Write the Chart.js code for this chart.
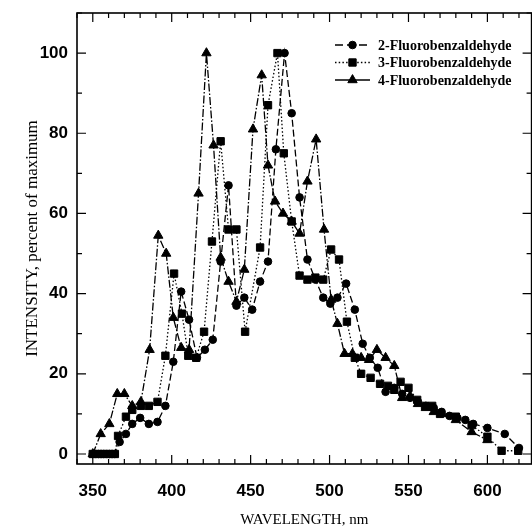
<!DOCTYPE html>
<html><head><meta charset="utf-8">
<script src="https://cdn.jsdelivr.net/npm/chart.js@4.4.0/dist/chart.umd.min.js"></script>
<style>html,body{margin:0;padding:0;overflow:hidden;background:#fff;width:532px;height:530px}
canvas{display:block}</style>
</head><body>
<canvas id="c" width="538" height="530"></canvas>
<script>
const seriesNames = ['2-Fluorobenzaldehyde','3-Fluorobenzaldehyde','4-Fluorobenzaldehyde'];
const wl2 = [350,353.5,357,360.5,364,367,371,375,380,385.5,391,396,401,406,411,416,421,426,431,436,441,446,451,456,461,466,471.5,476,481,486,491,496,500.5,505,510.5,516,521,525.5,530.5,535.5,541,546,551,556,561,566,571,576,581,586,591,600,611,620];
const v2  = [0,0,0,0,0,3,5,7.5,9,7.5,8,12,23,40.5,33.5,24,26,28.5,48,67,37,39,36,43,48,76,100,85,64,48.5,43.5,39,37.5,39,42.5,36,27.5,24,21.5,15.5,16.5,15,14,13,12,11.5,10.5,9.5,9,8.5,7.5,6.5,5,1.5];
const wl3 = [350,353.5,357,360.5,364,366,371,375,380.5,385.5,391,396,401.5,406.5,410.5,415.5,420.5,425.5,431,436,441,446.5,456,461,467,471,476,481,486,491,496,501,506,511,516,520,526,532,537,541,545,550,555.5,560.5,565,570,580,590,600,609,619.5];
const v3  = [0,0,0,0,0,4.5,9.3,11,12,12,13,24.5,45,35,24.5,24,30.5,53,78,56,56,30.5,51.5,87,100,75,58,44.5,43.5,44,43.5,51,48.5,33,24,20,19,17.5,17,16,18,16.5,13.5,12,12,10,9.3,7.2,4.3,0.8,0.8];
const wl4 = [350,355,360.5,365.5,370,375,380.5,386,391.5,396.5,401,406,411,417,422,426.5,431,436,441,446,451.5,457,461,465.5,470.5,476,481,486,491.5,496.5,501,505,509.5,514.5,520,525,530,535.5,541,546,551,556,561,566,571,580,590,600];
const v4  = [0,5,7.5,15,15,12,13,26,54.5,50,34,26.5,26,65,100,77,49,43,38,46,81,94.5,72,63,60,58,55,68,78.5,56,38.5,32.5,25,25,24,23.5,26,24,22,14,14.5,12.5,11.5,10.5,10,8.5,5.5,3.5];
const xTicks = [350,400,450,500,550,600];
const yTicks = [0,20,40,60,80,100];
const xMinor = [340,360,370,380,390,410,420,430,440,460,470,480,490,510,520,530,540,560,570,580,590,610,620];
const yMinor = [10,30,50,70,90,110];

const pts = (xs, ys) => xs.map((x, i) => ({x: x, y: ys[i]}));
const styles = [
  {pointStyle:'circle', pointRadius:3.8, borderDash:[7,3], legendDash:[8,4]},
  {pointStyle:'rect', pointRadius:5.2, borderDash:[1.5,2.2], legendDash:[1.5,2.2]},
  {pointStyle:'triangle', pointRadius:5.4, borderDash:[8,2,1.5,2], legendDash:[]}
];
const series = [pts(wl2, v2), pts(wl3, v3), pts(wl4, v4)];

const datasets = series.map((d, i) => ({
  label: seriesNames[i], data: d, showLine: true,
  borderColor: '#000', backgroundColor: '#000', borderWidth: 1.3,
  borderDash: styles[i].borderDash, pointStyle: styles[i].pointStyle,
  pointRadius: styles[i].pointRadius, pointBorderWidth: 1, tension: 0
}));

function drawMarker(ctx, style, r, x, y) {
  ctx.beginPath();
  if (style === 'circle') { ctx.arc(x, y, r, 0, Math.PI * 2); }
  else if (style === 'rect') { const s = r * Math.SQRT1_2; ctx.rect(x - s, y - s, 2 * s, 2 * s); }
  else {
    let a = 0;
    ctx.moveTo(x + Math.sin(a) * r, y - Math.cos(a) * r);
    a += 2 * Math.PI / 3; ctx.lineTo(x + Math.sin(a) * r, y - Math.cos(a) * r);
    a += 2 * Math.PI / 3; ctx.lineTo(x + Math.sin(a) * r, y - Math.cos(a) * r);
    ctx.closePath();
  }
  ctx.fill(); ctx.stroke();
}

const framePlugin = {
  id: 'frame',
  afterDraw(chart) {
    const {ctx, chartArea: a, scales: {x, y}} = chart;
    ctx.save();
    ctx.strokeStyle = '#000'; ctx.lineWidth = 1.6; ctx.setLineDash([]);
    ctx.strokeRect(a.left, a.top, a.right - a.left, a.bottom - a.top);
    ctx.lineWidth = 1.2;
    ctx.beginPath();
    const xt = (v, len) => { const p = x.getPixelForValue(v); ctx.moveTo(p, a.bottom); ctx.lineTo(p, a.bottom - len); ctx.moveTo(p, a.top); ctx.lineTo(p, a.top + len); };
    const yt = (v, len) => { const p = y.getPixelForValue(v); ctx.moveTo(a.left, p); ctx.lineTo(a.left + len, p); ctx.moveTo(a.right, p); ctx.lineTo(a.right - len, p); };
    xTicks.forEach(v => xt(v, 9)); xMinor.forEach(v => xt(v, 5));
    yTicks.forEach(v => yt(v, 9)); yMinor.forEach(v => yt(v, 5));
    ctx.stroke();
    // legend
    const rows = [45, 62.5, 80];
    ctx.font = 'bold 14px "Liberation Serif"';
    ctx.textBaseline = 'middle'; ctx.textAlign = 'left';
    ctx.fillStyle = '#000';
    chart.data.datasets.forEach((ds, i) => {
      const yy = rows[i];
      ctx.lineWidth = 1.5; ctx.setLineDash(styles[i].legendDash);
      ctx.beginPath(); ctx.moveTo(335, yy); ctx.lineTo(370, yy); ctx.stroke();
      ctx.setLineDash([]); ctx.lineWidth = 1;
      drawMarker(ctx, styles[i].pointStyle, styles[i].pointRadius, 352.5, yy);
      ctx.fillText(ds.label, 378, yy + 1);
    });
    ctx.restore();
  }
};

new Chart(document.getElementById('c'), {
  type: 'scatter',
  data: {datasets: datasets},
  options: {
    responsive: false, animation: false,
    layout: {padding: {top: 13, left: 0, right: 3, bottom: 0}},
    plugins: {legend: {display: false}, tooltip: {enabled: false}},
    scales: {
      x: {
        type: 'linear', min: 340, max: 628,
        afterFit(s) { s.height = 66; s.paddingLeft = 0; s.paddingRight = 0; },
        afterBuildTicks(s) { s.ticks = xTicks.map(v => ({value: v})); },
        grid: {display: false, drawTicks: false}, border: {display: false},
        ticks: {padding: 17, color: '#000', maxRotation: 0, font: {family: 'Liberation Sans', weight: 'bold', size: 17}},
        title: {display: true, text: 'WAVELENGTH, nm', color: '#000', font: {family: 'Liberation Serif', size: 15}, padding: {top: 0, bottom: 1}}
      },
      y: {
        type: 'linear', min: -2.5, max: 110,
        afterFit(s) { s.width = 77; s.paddingTop = 0; s.paddingBottom = 0; },
        afterBuildTicks(s) { s.ticks = yTicks.map(v => ({value: v})); },
        grid: {display: false, drawTicks: false}, border: {display: false},
        ticks: {padding: 9, color: '#000', font: {family: 'Liberation Sans', weight: 'bold', size: 17}},
        title: {display: true, text: 'INTENSITY, percent of maximum', color: '#000', font: {family: 'Liberation Serif', size: 17}, padding: {top: 22, bottom: 0}}
      }
    }
  },
  plugins: [framePlugin]
});
</script>
</body></html>
